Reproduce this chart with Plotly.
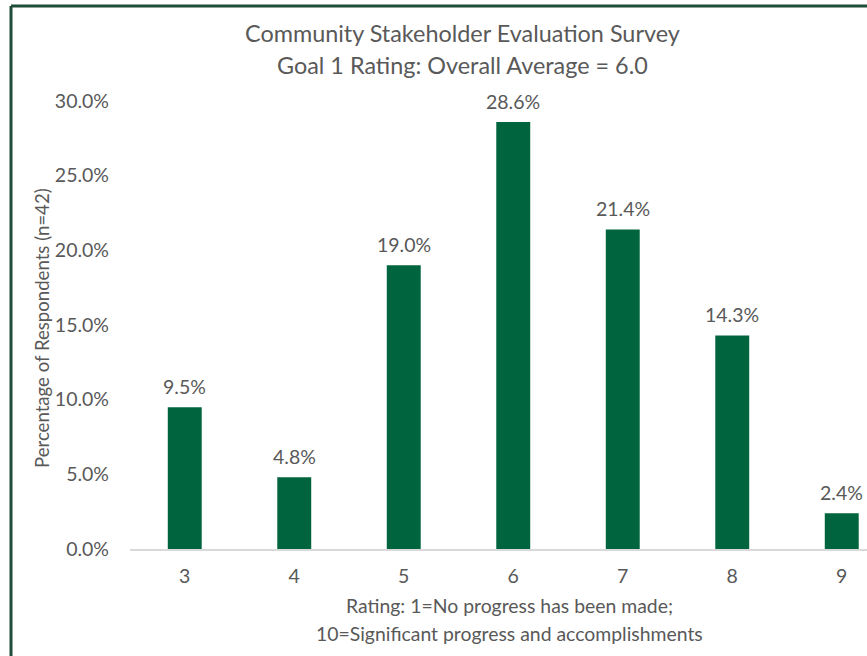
import plotly.graph_objects as go

# Survey results: rating vs share of respondents (n=42)
ratings = [3, 4, 5, 6, 7, 8, 9]
shares = [0.095, 0.048, 0.190, 0.286, 0.214, 0.143, 0.024]
y_ticks = [0.0, 0.05, 0.10, 0.15, 0.20, 0.25, 0.30]

title_lines = ["Community Stakeholder Evaluation Survey",
               "Goal 1 Rating: Overall Average = 6.0"]
x_title_lines = ["Rating: 1=No progress has been made;",
                 "10=Significant progress and accomplishments"]
y_title = "Percentage of Respondents (n=42)"

W, H = 867, 656
ML, MR, MT, MB = 130, 0, 101, 107
PW, PH = W - ML - MR, H - MT - MB
CAT_STEP = 109.5  # pixels between category centres

FONT = "Lato"
GREY = "#595959"
BAR = "#00653E"
FRAME = "#1E4D3A"


def px_x(p):
    return (p - ML) / PW


def px_y(p):
    return (H - MB - p) / PH


fig = go.Figure(go.Bar(
    x=ratings, y=shares, width=0.31,
    marker=dict(color=BAR, line=dict(width=0)),
    hoverinfo="skip",
))

annotations = []
for r, s in zip(ratings, shares):
    annotations.append(dict(
        x=r, y=s, xref="x", yref="y", text=f"{s * 100:.1f}%",
        showarrow=False, yanchor="bottom", yshift=7,
        font=dict(family=FONT, size=19.5, color=GREY)))

for i, line in enumerate(title_lines):
    annotations.append(dict(
        x=px_x(462), y=px_y(33 + 32 * i), xref="paper", yref="paper",
        text=line, showarrow=False, xanchor="center", yanchor="middle",
        font=dict(family=FONT, size=23.4, color=GREY)))

for i, line in enumerate(x_title_lines):
    annotations.append(dict(
        x=px_x(509), y=px_y(605 + 28 * i), xref="paper", yref="paper",
        text=line, showarrow=False, xanchor="center", yanchor="middle",
        font=dict(family=FONT, size=19.4, color=GREY)))

annotations.append(dict(
    x=px_x(42), y=px_y(328), xref="paper", yref="paper", text=y_title,
    showarrow=False, textangle=-90, xanchor="center", yanchor="middle",
    font=dict(family=FONT, size=18.6, color=GREY)))

# frame lines along the top and left edges
shapes = [
    dict(type="line", xref="paper", yref="paper",
         x0=px_x(11), x1=px_x(W + 5), y0=px_y(6), y1=px_y(6),
         line=dict(color=FRAME, width=3)),
    dict(type="line", xref="paper", yref="paper",
         x0=px_x(11), x1=px_x(11), y0=px_y(6), y1=px_y(H + 5),
         line=dict(color=FRAME, width=3)),
]

fig.update_layout(
    width=W, height=H,
    margin=dict(l=ML, r=MR, t=MT, b=MB),
    paper_bgcolor="white", plot_bgcolor="white",
    showlegend=False,
    annotations=annotations, shapes=shapes,
    xaxis=dict(
        range=[2.5, 2.5 + PW / CAT_STEP],
        tickmode="array", tickvals=ratings, ticktext=[str(r) for r in ratings],
        showgrid=False, zeroline=False,
        showline=True, linecolor="#D9D9D9", linewidth=1.5,
        ticks="", ticklabelstandoff=9,
        tickfont=dict(family=FONT, size=19.5, color=GREY),
    ),
    yaxis=dict(
        range=[0, 0.30],
        tickmode="array", tickvals=y_ticks, tickformat=".1%",
        showgrid=False, zeroline=False, showline=False,
        ticks="", ticklabelstandoff=20,
        tickfont=dict(family=FONT, size=19.5, color=GREY),
    ),
)

fig.write_html("out.html")
